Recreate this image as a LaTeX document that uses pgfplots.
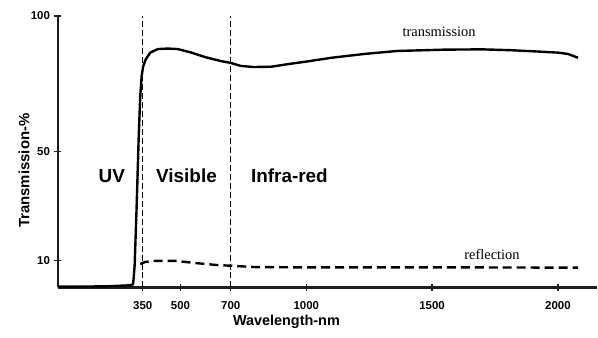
\documentclass[border=0pt]{standalone}
\usepackage{fontspec}
\setmainfont{Liberation Sans}
\newfontfamily\curvefont{Liberation Serif}
\usepackage{pgfplots}
\pgfplotsset{compat=1.18}
\definecolor{ink}{RGB}{30,30,30}

\begin{document}
\begin{tikzpicture}
\begin{axis}[
  at={(0,0)}, anchor=south west,
  scale only axis, width=540bp, height=272bp,
  xmin=13, xmax=2155, ymin=0, ymax=100,
  axis x line=bottom, axis y line=left,
  axis line style={line width=1.8bp, ink, -},
  clip=false,
  xtick={350,500,700,1000,1500,2000},
  ytick={10,50,100},
  tick align=center,
  major tick length=7bp,
  every tick/.style={line width=1.2bp, ink},
  ticklabel style={font=\bfseries\fontsize{11.5}{11.5}\selectfont},
  xticklabel style={yshift=-7bp},
  yticklabel style={xshift=-1bp},
  /pgf/number format/assume math mode=true,
  /pgf/number format/set thousands separator={},
  xlabel={Wavelength-nm},
  xlabel style={at={(axis description cs:0.424,-0.125)}, anchor=center,
    font=\bfseries\fontsize{14.5}{14.5}\selectfont},
  ylabel={Transmission-\%},
  ylabel style={at={(axis description cs:-0.063,0.43)}, anchor=center,
    font=\bfseries\fontsize{15}{15}\selectfont},
]
% baseline of the chart
\addplot[ink, line width=2.2bp] coordinates {(13,0) (2155,0)};
% measured transmission
\addplot[black, line width=2.4bp, line join=round] coordinates {
  (13,0.3) (200,0.4) (300,0.8) (312,1.2) (318,8) (326,30) (334,55)
  (340,70) (346,78) (352,81.5) (362,84) (380,86.5) (410,87.8)
  (450,88) (490,87.8) (540,86.6) (600,84.8) (660,83.4) (700,82.7)
  (740,81.6) (790,81.2) (860,81.3) (930,82.3) (1000,83.2)
  (1100,84.6) (1230,86) (1360,87.1) (1550,87.6) (1700,87.7)
  (1810,87.4) (1900,87) (2000,86.5) (2040,86) (2080,84.6)
};
% measured reflection
\addplot[black, line width=2.4bp, dash pattern=on 9bp off 5bp] coordinates {
  (340,8.6) (360,9.4) (400,9.8) (480,9.8) (560,9.0) (640,8.3)
  (700,8.0) (800,7.5) (1000,7.4) (1300,7.4) (1600,7.4) (2080,7.3)
};
% region boundaries
\addplot[black, line width=1.1bp, dash pattern=on 6bp off 3bp] coordinates {(350,0) (350,100)};
\addplot[black, line width=1.1bp, dash pattern=on 6bp off 3bp] coordinates {(700,0) (700,100)};

\node[font=\bfseries\fontsize{19}{19}\selectfont] at (axis cs:227,41) {UV};
\node[font=\bfseries\fontsize{19}{19}\selectfont] at (axis cs:524,41) {Visible};
\node[font=\bfseries\fontsize{19}{19}\selectfont] at (axis cs:933,41) {Infra-red};
\node[font=\curvefont\fontsize{14.5}{14.5}\selectfont] at (axis cs:1528,94) {transmission};
\node[font=\curvefont\fontsize{14.5}{14.5}\selectfont] at (axis cs:1738,12.2) {reflection};
\end{axis}
% page margins around the axis
\path (-58bp,-50bp) rectangle (540bp,288bp);
\end{tikzpicture}
\end{document}
